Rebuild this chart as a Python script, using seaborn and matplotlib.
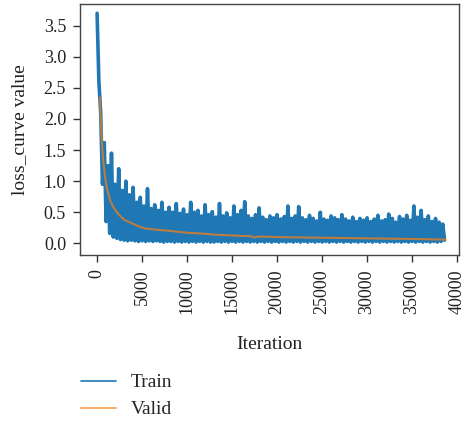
import numpy as np
import pandas as pd
import matplotlib
matplotlib.use("Agg")
import matplotlib.pyplot as plt
from matplotlib.lines import Line2D
import seaborn as sns

# train loss, one value every 200 iterations
# (alternating spike top / trough so the band looks like the noisy curve)
TRAIN_STEP = 200
train_loss = [
    3.70, 2.60, 2.10, 0.95, 1.62, 0.35, 1.25, 0.16, 1.45, 0.10,
    0.95, 0.08, 1.20, 0.06, 0.85, 0.05, 1.00, 0.04, 0.78, 0.05,
    0.90, 0.04, 0.66, 0.03, 0.74, 0.04, 0.60, 0.03, 0.88, 0.04,
    0.56, 0.03, 0.62, 0.04, 0.53, 0.03, 0.66, 0.02, 0.50, 0.03,
    0.58, 0.03, 0.50, 0.02, 0.64, 0.03, 0.48, 0.02, 0.55, 0.03,
    0.46, 0.02, 0.66, 0.03, 0.50, 0.02, 0.53, 0.03, 0.44, 0.02,
    0.62, 0.03, 0.46, 0.02, 0.51, 0.02, 0.42, 0.03, 0.64, 0.02,
    0.44, 0.03, 0.49, 0.02, 0.41, 0.03, 0.60, 0.02, 0.46, 0.03,
    0.53, 0.02, 0.67, 0.03, 0.44, 0.02, 0.40, 0.03, 0.46, 0.02,
    0.57, 0.03, 0.42, 0.02, 0.38, 0.03, 0.44, 0.02, 0.41, 0.03,
    0.46, 0.02, 0.39, 0.03, 0.43, 0.02, 0.60, 0.03, 0.40, 0.02,
    0.44, 0.03, 0.59, 0.02, 0.41, 0.03, 0.38, 0.02, 0.45, 0.03,
    0.40, 0.02, 0.36, 0.03, 0.50, 0.02, 0.39, 0.03, 0.37, 0.02,
    0.44, 0.03, 0.41, 0.02, 0.38, 0.03, 0.46, 0.02, 0.39, 0.03,
    0.36, 0.02, 0.42, 0.03, 0.35, 0.02, 0.40, 0.03, 0.37, 0.02,
    0.41, 0.03, 0.35, 0.02, 0.39, 0.03, 0.45, 0.02, 0.36, 0.03,
    0.38, 0.02, 0.47, 0.03, 0.40, 0.02, 0.34, 0.03, 0.43, 0.02,
    0.39, 0.03, 0.45, 0.02, 0.37, 0.03, 0.60, 0.02, 0.42, 0.03,
    0.53, 0.02, 0.38, 0.03, 0.44, 0.02, 0.35, 0.03, 0.40, 0.02,
    0.34, 0.03, 0.31, 0.05,
]
train_iter = [i * TRAIN_STEP for i in range(len(train_loss))]

valid_iter = [300, 400, 590, 700, 890, 1100, 1450, 1800, 2300, 3000, 3900,
              4500, 5300, 6500, 8100, 10000, 11400, 13000, 15900, 17000,
              17500, 18000, 20000, 25000, 30000, 35000, 38700]
valid_loss = [2.35, 2.00, 1.50, 1.30, 1.06, 0.88, 0.69, 0.58, 0.48, 0.38, 0.32,
              0.28, 0.24, 0.22, 0.20, 0.17, 0.16, 0.14, 0.12, 0.115,
              0.095, 0.11, 0.10, 0.09, 0.08, 0.07, 0.06]

x_ticks = list(range(0, 40001, 5000))
y_ticks = [0.0, 0.5, 1.0, 1.5, 2.0, 2.5, 3.0, 3.5]

TRAIN_COLOR = '#1f77b4'
VALID_COLOR = '#ff7f0e'

sns.set_theme(style="ticks")
plt.rcParams['font.family'] = ['Liberation Serif', 'DejaVu Serif']

df_train = pd.DataFrame({'iteration': train_iter, 'loss': train_loss})
df_valid = pd.DataFrame({'iteration': valid_iter, 'loss': valid_loss})

fig = plt.figure(figsize=(4.61, 4.21), dpi=100)
ax = fig.add_axes([0.1735, 0.394, 0.822, 0.5965])

sns.lineplot(data=df_train, x='iteration', y='loss', ax=ax, color=TRAIN_COLOR,
             linewidth=2.6, estimator=None)
sns.lineplot(data=df_valid, x='iteration', y='loss', ax=ax, color=VALID_COLOR,
             alpha=0.7, linewidth=1.5, estimator=None)

ax.set_xlim(-1900, 40200)
ax.set_ylim(-0.19, 3.85)
ax.set_xticks(x_ticks)
ax.set_xticklabels([str(t) for t in x_ticks], rotation=90)
ax.set_yticks(y_ticks)
ax.set_yticklabels([f"{t:.1f}" for t in y_ticks])
ax.tick_params(labelsize=13, length=5, width=1, pad=5, color='#333333',
               labelcolor='#222222')
for s in ax.spines.values():
    s.set_color('#444444')
    s.set_linewidth(1.0)
ax.set_xlabel('Iteration', fontsize=14, color='#222222', labelpad=16)
ax.set_ylabel('loss_curve value', fontsize=14, color='#222222', labelpad=11)

# proxy handles so the legend lines stay thin
handles = [Line2D([], [], color=TRAIN_COLOR, linewidth=1.2),
           Line2D([], [], color=VALID_COLOR, alpha=0.65, linewidth=1.4)]
fig.legend(handles, ['Train', 'Valid'], loc='upper left',
           bbox_to_anchor=(0.176, 0.112), frameon=False, fontsize=14,
           borderpad=0, handlelength=1.8, handletextpad=0.75,
           labelspacing=0.48, borderaxespad=0)

plt.savefig("out.png", dpi=100)
